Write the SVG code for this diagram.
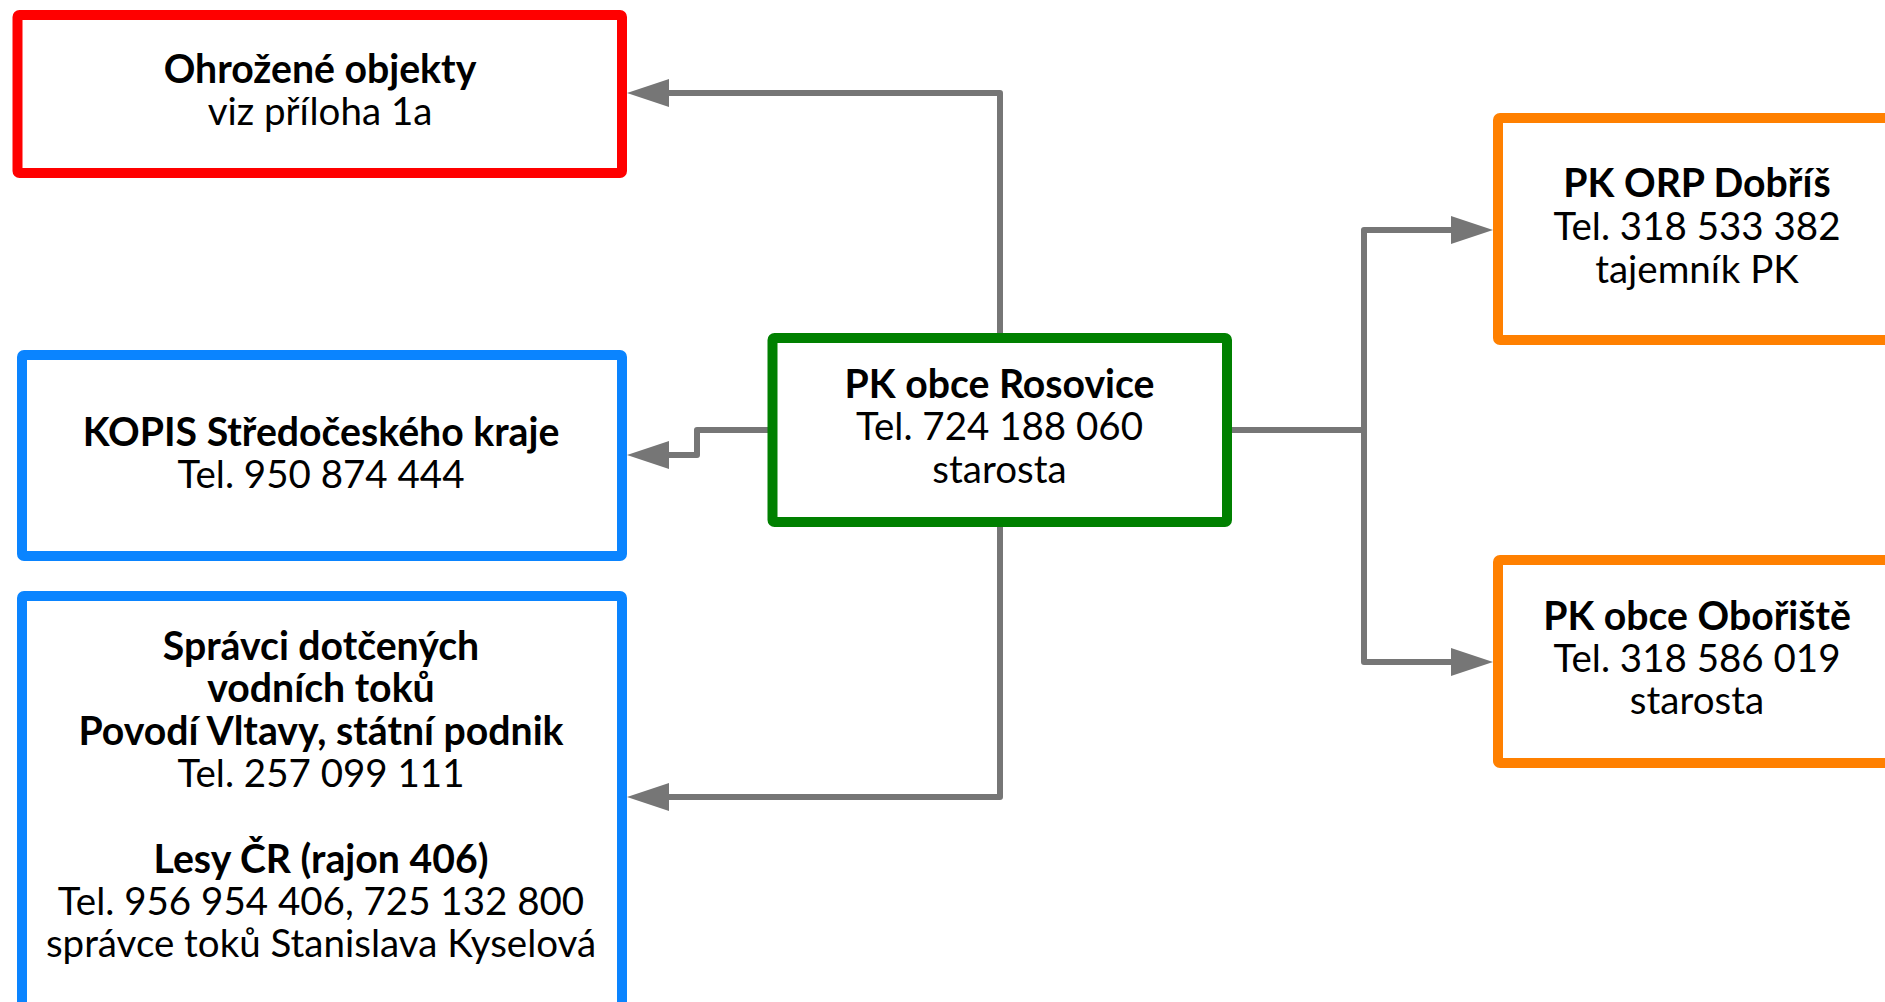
<svg xmlns="http://www.w3.org/2000/svg" width="1885" height="1002" viewBox="0 0 1885 1002">
<style>
.box{fill:#ffffff;stroke-width:10;stroke-linejoin:round}
.red{stroke:#ff0000}
.blue{stroke:#0a84ff}
.green{stroke:#008000}
.orange{stroke:#ff8000}
text{font-family:Lato,"Open Sans","Liberation Sans",sans-serif;font-size:38.5px;fill:#000000;text-anchor:middle}
.b{font-weight:700;font-size:39.2px}
.conn{fill:none;stroke:#767676;stroke-width:6;stroke-linejoin:round;marker-end:url(#arrow)}
</style>
<defs>
<marker id="arrow" markerUnits="userSpaceOnUse" markerWidth="44" markerHeight="30" refX="2" refY="14" orient="auto">
<path d="M0,0 L42,14 L0,28 Z" fill="#767676"/>
</marker>
</defs>
<rect width="1885" height="1002" fill="#ffffff"/>
<g id="connectors">
<path class="conn" d="M1000,338 V93 H667"/>
<path class="conn" d="M772,430 H697 V455 H667"/>
<path class="conn" d="M1000,522 V797 H667"/>
<path class="conn" d="M1227,430 H1364 V230 H1453"/>
<path class="conn" d="M1364,430 V662 H1453"/>
</g>
<g id="node-ohrozene">
<rect class="box red" x="17.5" y="15" width="604.5" height="158" rx="2"/>
<text x="320" y="83" class="b">Ohrožené objekty</text>
<text x="320" y="125">viz příloha 1a</text>
</g>
<g id="node-kopis">
<rect class="box blue" x="22" y="355" width="600" height="201" rx="2"/>
<text x="321" y="446" class="b">KOPIS Středočeského kraje</text>
<text x="321" y="488">Tel. 950 874 444</text>
</g>
<g id="node-spravci">
<rect class="box blue" x="22" y="596" width="600" height="440" rx="2"/>
<text x="321" y="660" class="b">Správci dotčených</text>
<text x="321" y="702" class="b">vodních toků</text>
<text x="321" y="744.5" class="b">Povodí Vltavy, státní podnik</text>
<text x="321" y="787">Tel. 257 099 111</text>
<text x="321" y="872.5" class="b">Lesy ČR (rajon 406)</text>
<text x="321" y="915">Tel. 956 954 406, 725 132 800</text>
<text x="321" y="957">správce toků Stanislava Kyselová</text>
</g>
<g id="node-rosovice">
<rect class="box green" x="772.5" y="338" width="454.5" height="184" rx="2"/>
<text x="999.5" y="397.5" class="b">PK obce Rosovice</text>
<text x="999.5" y="440">Tel. 724 188 060</text>
<text x="999.5" y="483">starosta</text>
</g>
<g id="node-dobris">
<rect class="box orange" x="1498" y="118" width="420" height="222" rx="2"/>
<text x="1697" y="196.5" class="b">PK ORP Dobříš</text>
<text x="1697" y="239.5">Tel. 318 533 382</text>
<text x="1697" y="282.5">tajemník PK</text>
</g>
<g id="node-oboriste">
<rect class="box orange" x="1498" y="560" width="420" height="203" rx="2"/>
<text x="1697" y="629.5" class="b">PK obce Obořiště</text>
<text x="1697" y="672">Tel. 318 586 019</text>
<text x="1697" y="714">starosta</text>
</g>
</svg>
